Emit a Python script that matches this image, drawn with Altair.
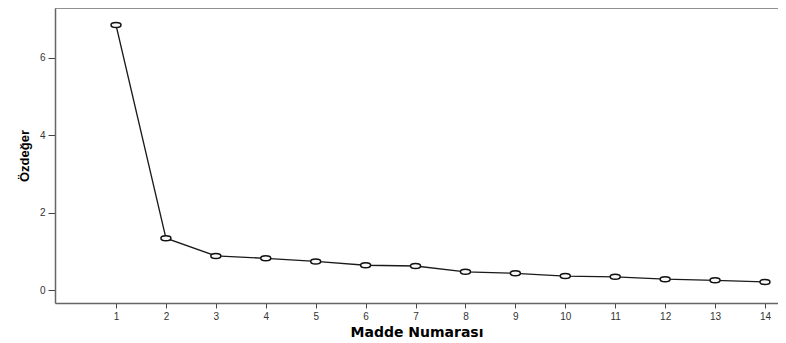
import altair as alt
import pandas as pd

items = list(range(1, 15))
eigen = [6.85, 1.34, 0.88, 0.82, 0.74, 0.64, 0.62, 0.47, 0.43, 0.36, 0.34, 0.28, 0.25, 0.21]
x_ticks = list(range(1, 15))
y_ticks = [0, 2, 4, 6]

df = pd.DataFrame({"Madde": items, "Ozdeger": eigen})

W, H = 723, 295
xs = alt.Scale(domain=[-0.222, 14.261], nice=False, zero=False)
ys = alt.Scale(domain=[-0.336, 7.29], nice=False, zero=False)

x_axis = alt.Axis(title="Madde Numarası", values=x_ticks, grid=False,
                  domainColor="#666666", domainWidth=1.5, tickColor="#444444",
                  tickSize=5, labelFontSize=10, labelColor="#333333",
                  labelFont="Liberation Sans", titleFont="DejaVu Sans",
                  titleFontSize=14, titleFontWeight="bold", titleColor="#000000",
                  titlePadding=4, labelPadding=3)
y_axis = alt.Axis(title="Özdeğer", values=y_ticks, grid=False,
                  domainColor="#666666", domainWidth=1.5, tickColor="#444444",
                  tickSize=7, labelFontSize=10, labelColor="#333333",
                  labelFont="Liberation Sans", titleFont="Liberation Sans",
                  titleFontSize=13, titleFontWeight="bold", titleColor="#000000",
                  titlePadding=8, labelPadding=3)

base = alt.Chart(df)
line = base.mark_line(color="#1a1a1a", strokeWidth=1.3).encode(
    x=alt.X("Madde:Q", scale=xs, axis=x_axis),
    y=alt.Y("Ozdeger:Q", scale=ys, axis=y_axis),
)
pts = base.mark_point(
    shape="M -1 0 A 1 0.5 0 1 0 1 0 A 1 0.5 0 1 0 -1 0 Z",
    size=100, filled=False, stroke="#111111", strokeWidth=1.5, fill="#f9f9f9",
    fillOpacity=1, opacity=1,
).encode(x=alt.X("Madde:Q", scale=xs), y=alt.Y("Ozdeger:Q", scale=ys))
top = alt.Chart(pd.DataFrame({"a": [0]})).mark_rule(color="#777777", strokeWidth=1.5).encode(
    x=alt.value(0), x2=alt.value(W), y=alt.value(0)
)

chart = alt.layer(top, line, pts).properties(
    width=W, height=H,
    autosize=alt.AutoSizeParams(type="none"),
    padding={"left": 47, "top": 0, "right": 0, "bottom": 40},
).configure_view(stroke=None, fill="#f9f9f9").configure(background="#ffffff")

chart.save("out.html", embed_options={"renderer": "svg", "actions": False})
